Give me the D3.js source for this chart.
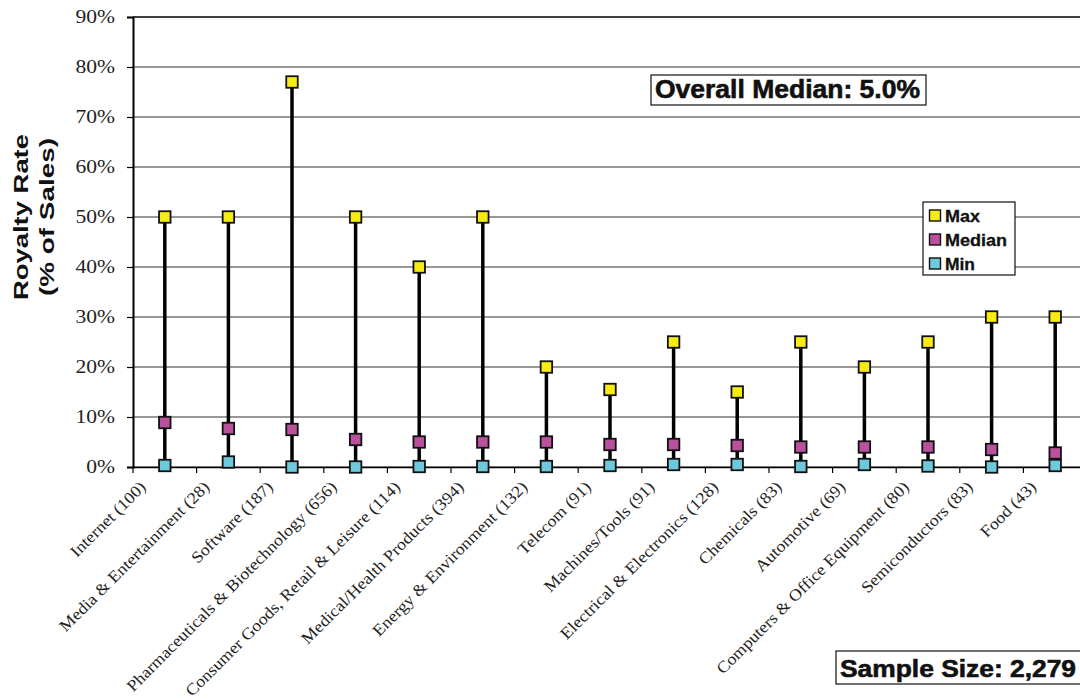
<!DOCTYPE html>
<html><head><meta charset="utf-8">
<script src="https://cdn.jsdelivr.net/npm/d3@7/dist/d3.min.js"></script>
<style>body{margin:0;background:#fff;} svg{display:block;}</style>
</head><body>
<script>
const categories = ["Internet (100)","Media & Entertainment (28)","Software (187)","Pharmaceuticals & Biotechnology (656)","Consumer Goods, Retail & Leisure (114)","Medical/Health Products (394)","Energy & Environment (132)","Telecom (91)","Machines/Tools (91)","Electrical & Electronics (128)","Chemicals (83)","Automotive (69)","Computers & Office Equipment (80)","Semiconductors (83)","Food (43)"];
const maxVals = [50,50,77,50,40,50,20,15.5,25,15,25,20,25,30,30];
const medianVals = [8.9,7.7,7.5,5.5,5.0,5.0,5.0,4.5,4.5,4.3,4.0,4.0,4.0,3.5,2.8];
const minVals = [0.3,1.0,0,0,0.1,0.1,0.1,0.3,0.5,0.5,0.1,0.5,0.2,0,0.3];
const yTicks = [0,10,20,30,40,50,60,70,80,90];
const seriesNames = ["Max","Median","Min"];
const seriesColors = ["#f6ec12","#b9519c","#6ccadc"];

const W=1080,H=700;
const svg=d3.select("body").append("svg").attr("width",W).attr("height",H);
const mLeft=133, mTop=17, mBottom=467, mRight=1087;
const x=d3.scaleBand().domain(categories).range([mLeft,mRight]);
const y=d3.scaleLinear().domain([0,90]).range([mBottom,mTop]);
const serif="Liberation Serif, Times New Roman, serif";
const sans="Liberation Sans, Arial, sans-serif";

// gridlines
svg.append("g").selectAll("line").data(yTicks).join("line")
 .attr("x1",mLeft).attr("x2",W).attr("y1",d=>y(d)).attr("y2",d=>y(d))
 .attr("stroke",d=>d===90?"#000":"#333").attr("stroke-width",d=>d===90?1.6:1.1);

// y axis
const ya=svg.append("g").attr("transform",`translate(${mLeft},0)`)
 .call(d3.axisLeft(y).tickValues(yTicks).tickFormat(d=>d+"%").tickSize(6).tickPadding(0));
ya.select(".domain").attr("stroke","#000").attr("stroke-width",2);
ya.selectAll(".tick line").attr("stroke","#000").attr("stroke-width",1.2);
ya.selectAll(".tick text").attr("x",null)
 .attr("transform","translate(-18,0) scale(1.2,1)")
 .attr("font-family",serif).attr("font-size",18).attr("fill","#222");

// x axis
const xa=svg.append("g").attr("transform",`translate(0,${mBottom})`)
 .call(d3.axisBottom(x).tickSize(0).tickFormat(""));
xa.select(".domain").attr("stroke","#000").attr("stroke-width",1.6);
svg.append("g").selectAll("line").data(d3.range(categories.length+1)).join("line")
 .attr("x1",i=>mLeft+i*x.step()).attr("x2",i=>mLeft+i*x.step())
 .attr("y1",mBottom).attr("y2",mBottom+6).attr("stroke","#000").attr("stroke-width",1.2);

svg.append("g").selectAll("text").data(categories).join("text")
 .attr("transform",d=>`translate(${x(d)+x.bandwidth()/2-18},${mBottom+21}) rotate(-45) scale(1.1,1)`)
 .attr("text-anchor","end").attr("font-family",serif).attr("font-size",16.3).attr("fill","#222")
 .text(d=>d);

// axis title
svg.append("text").attr("transform","translate(28,217) rotate(-90)")
 .attr("text-anchor","middle").attr("font-family",sans).attr("font-weight","bold").attr("font-size",21).attr("fill","#111")
 .attr("textLength",166).attr("lengthAdjust","spacingAndGlyphs").text("Royalty Rate");
svg.append("text").attr("transform","translate(54,217) rotate(-90)")
 .attr("text-anchor","middle").attr("font-family",sans).attr("font-weight","bold").attr("font-size",21).attr("fill","#111")
 .attr("textLength",158).attr("lengthAdjust","spacingAndGlyphs").text("(% of Sales)");

// range lines
svg.append("g").selectAll("line").data(categories).join("line")
 .attr("x1",d=>x(d)+x.bandwidth()/2).attr("x2",d=>x(d)+x.bandwidth()/2)
 .attr("y1",(d,i)=>y(maxVals[i])).attr("y2",(d,i)=>y(minVals[i]))
 .attr("stroke","#000").attr("stroke-width",3.5);

// markers
const series=[maxVals,medianVals,minVals];
const s=11.5;
[2,1,0].forEach(k=>{
 svg.append("g").selectAll("rect").data(categories).join("rect")
  .attr("x",d=>x(d)+x.bandwidth()/2-s/2).attr("y",(d,i)=>y(series[k][i])-s/2)
  .attr("width",s).attr("height",s).attr("fill",seriesColors[k]).attr("stroke","#111").attr("stroke-width",1.8);
});

// overall median box
svg.append("rect").attr("x",651).attr("y",75).attr("width",275).attr("height",30).attr("fill","#fff").attr("stroke","#111").attr("stroke-width",1.2);
svg.append("text").attr("x",655).attr("y",98)
 .attr("font-family",sans).attr("font-weight","bold").attr("font-size",25).attr("fill","#111")
 .attr("stroke","#111").attr("stroke-width",0.6)
 .attr("textLength",265).attr("lengthAdjust","spacingAndGlyphs").text("Overall Median: 5.0%");

// sample size box
svg.append("rect").attr("x",836).attr("y",651).attr("width",260).attr("height",33).attr("fill","#fff").attr("stroke","#111").attr("stroke-width",1.2);
svg.append("text").attr("x",840).attr("y",677)
 .attr("font-family",sans).attr("font-weight","bold").attr("font-size",24).attr("fill","#111")
 .attr("stroke","#111").attr("stroke-width",0.6)
 .attr("textLength",236).attr("lengthAdjust","spacingAndGlyphs").text("Sample Size: 2,279");

// legend
const lg=svg.append("g").attr("transform","translate(923,202)");
lg.append("rect").attr("width",92).attr("height",73).attr("fill","#fff").attr("stroke","#111").attr("stroke-width",1.2);
const legLens=[35,62,30];
seriesNames.forEach((n,i)=>{
 lg.append("rect").attr("x",6.5).attr("y",8+i*24).attr("width",11).attr("height",11).attr("fill",seriesColors[i]).attr("stroke","#111").attr("stroke-width",1.4);
 lg.append("text").attr("x",22).attr("y",20+i*24).attr("font-family",sans).attr("font-weight","bold").attr("font-size",16).attr("fill","#111")
  .attr("stroke","#111").attr("stroke-width",0.3)
  .attr("textLength",legLens[i]).attr("lengthAdjust","spacingAndGlyphs").text(n);
});
</script>
</body></html>
